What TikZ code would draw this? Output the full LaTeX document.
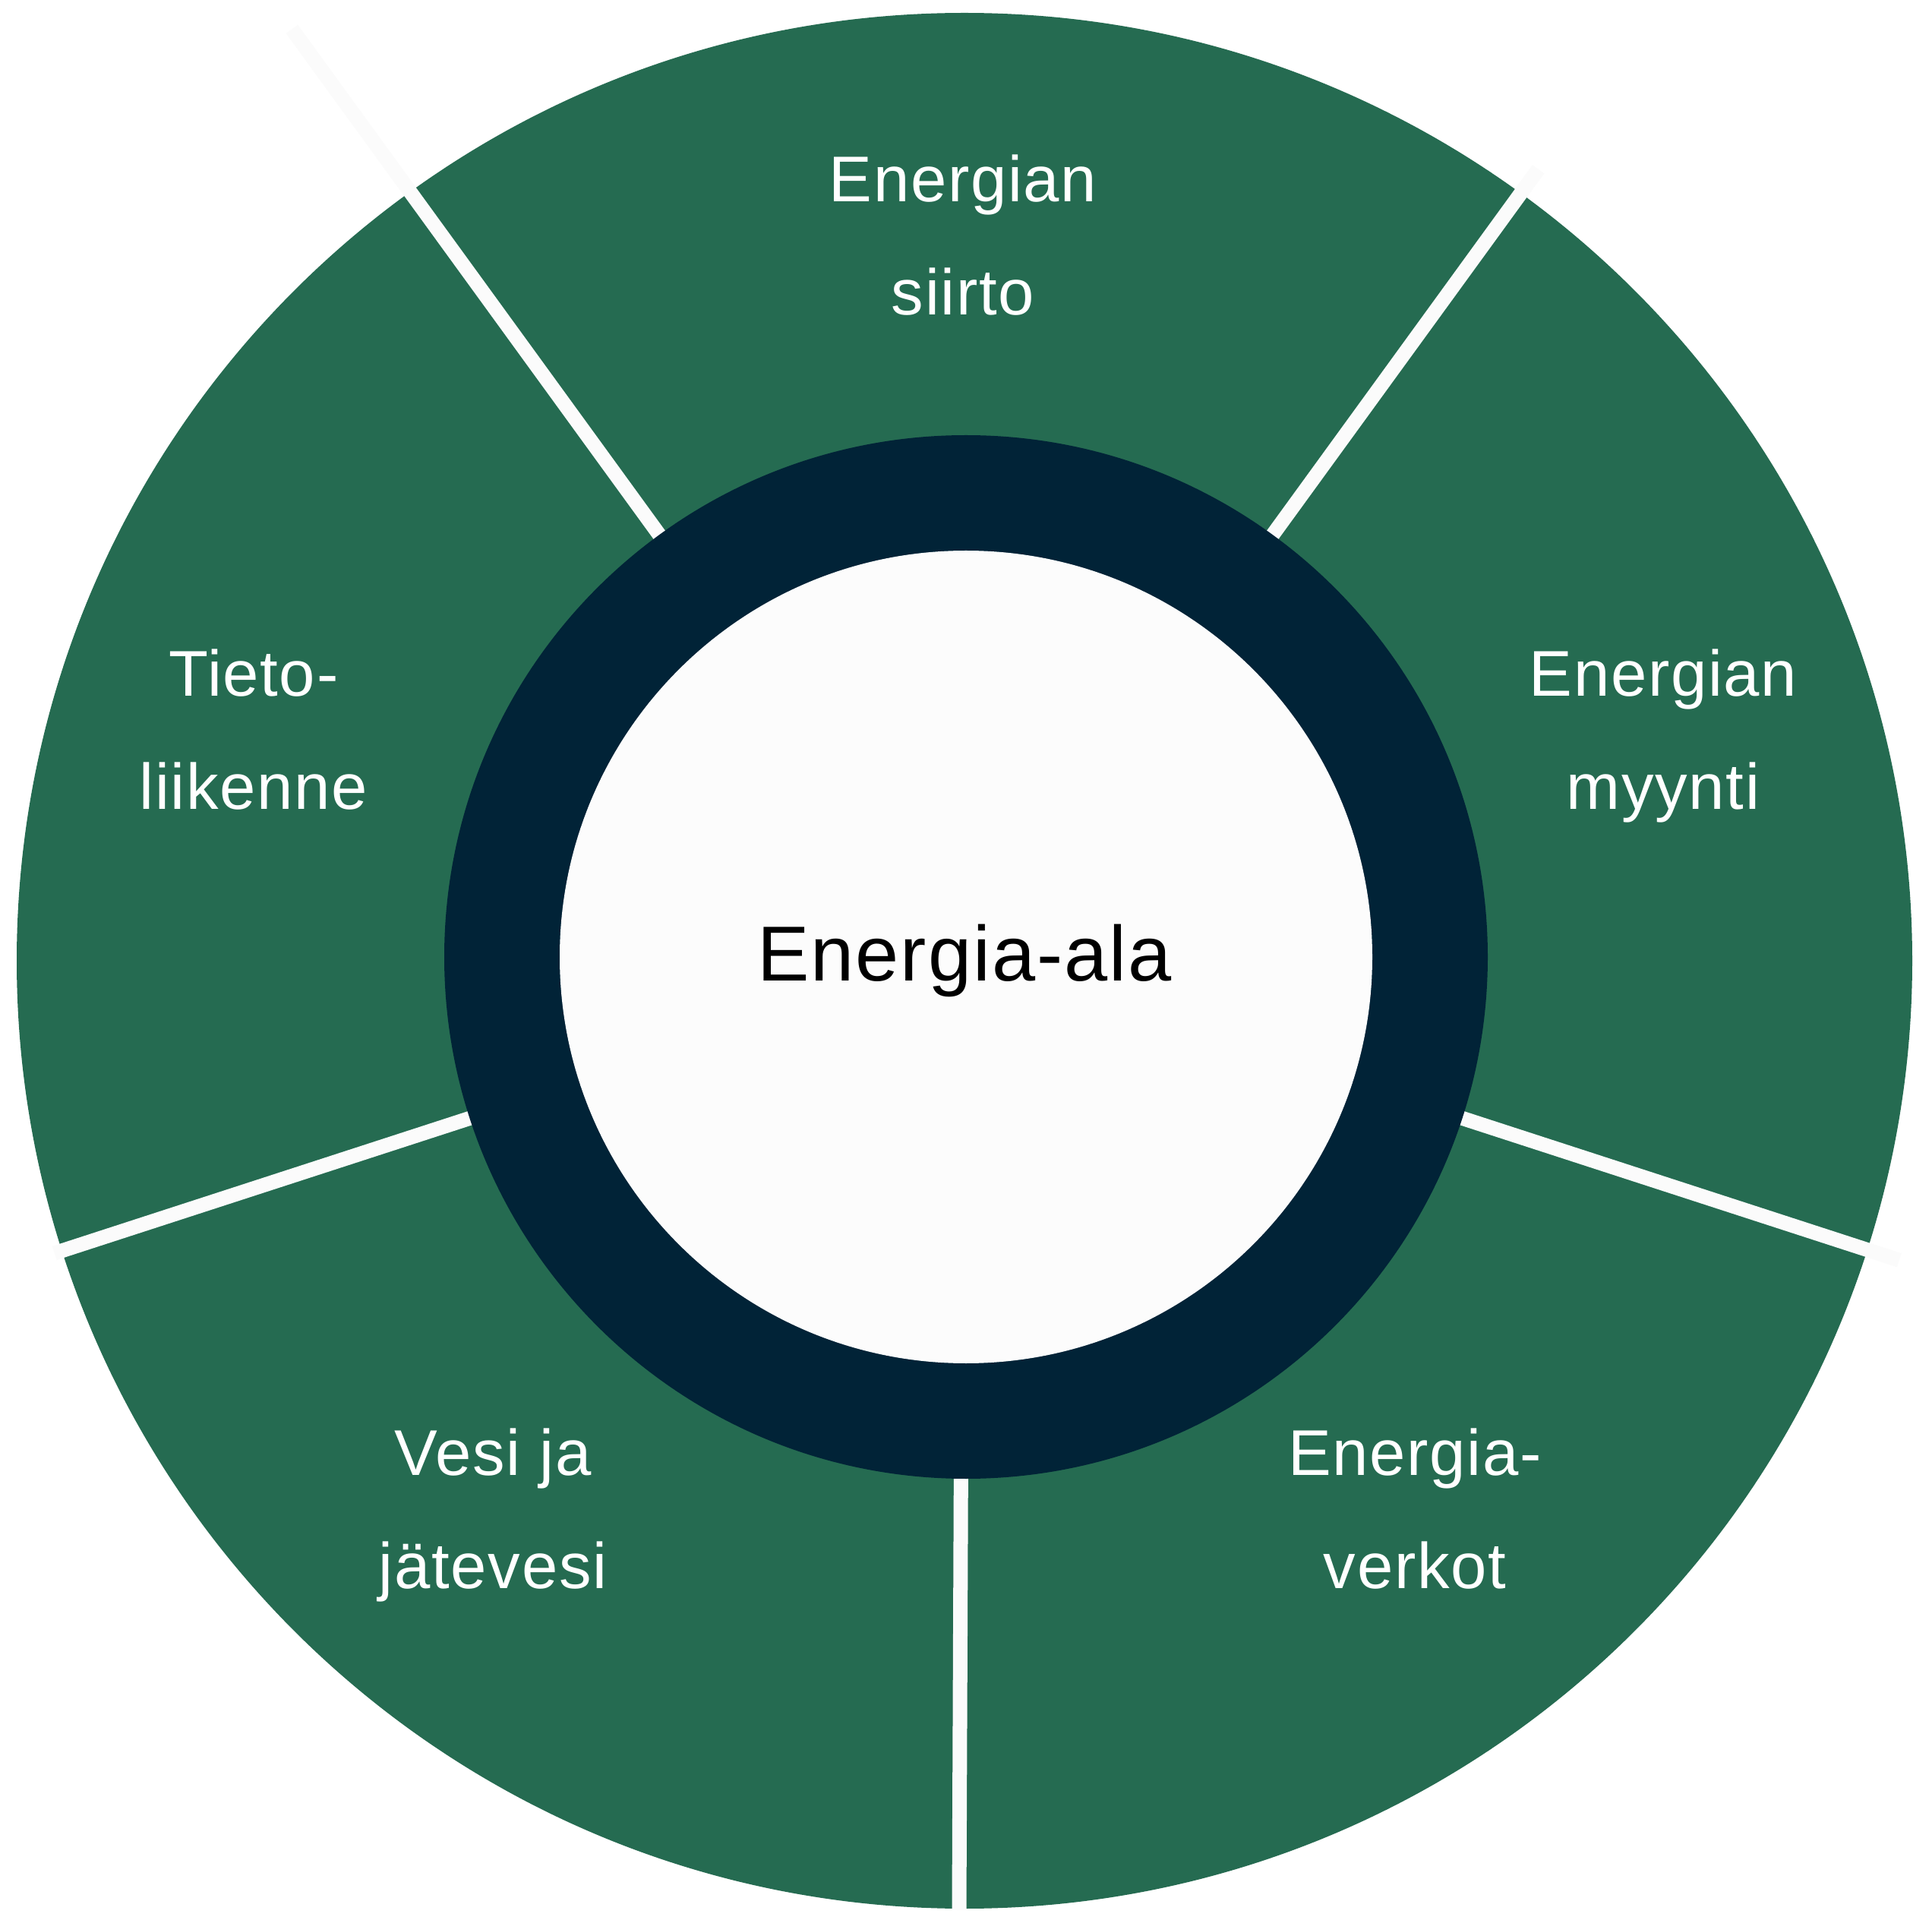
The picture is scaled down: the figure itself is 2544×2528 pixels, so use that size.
\documentclass[tikz,border=0pt]{standalone}
\usepackage{fontspec}
\setmainfont{Liberation Sans}[LetterSpace=2]
\usetikzlibrary{calc}
\definecolor{segGreen}{RGB}{37,107,81}
\definecolor{ringNavy}{RGB}{1,35,55}
\definecolor{sepWhite}{RGB}{251,251,251}
\definecolor{coreWhite}{RGB}{252,252,252}
\begin{document}
\begin{tikzpicture}[x=0.01cm,y=-0.01cm,
  lbl/.style={text=white, font=\fontsize{24.2}{30}\selectfont, anchor=base, inner sep=0pt},
  ctr/.style={text=black, font=\fontsize{29.2}{36}\selectfont, anchor=base, inner sep=0pt},
  sepline/.style={draw=sepWhite, line width=0.19cm}]
\useasboundingbox (0,0) rectangle (2544,2528);
\clip (0,0) rectangle (2544,2528);
\fill[white] (0,0) rectangle (2544,2528);
\coordinate (O) at (1270,1265);
\coordinate (C) at (1272,1260);
\fill[segGreen] (O) circle[radius=1248];
\foreach \a/\len in {306/1282,234/1510,162/1262,18/1292} {
  \coordinate (e\a) at ($(C)+(\a:\len)$);
  \draw[sepline] (C) -- (e\a);
}
\coordinate (b0) at (1268,1300);
\coordinate (b1) at (1263,2515);
\draw[sepline] (b0) -- (b1);
\fill[ringNavy] (C) circle[radius=687];
\fill[coreWhite] (C) circle[radius=535];
\node[lbl] (t1a) at (1268,266) {Energian};
\node[lbl] (t1b) at (1268,415) {siirto};
\node[lbl] (t2a) at (2190,917) {Energian};
\node[lbl] (t2b) at (2190,1066) {myynti};
\node[lbl] (t3a) at (1863,1942) {Energia-};
\node[lbl] (t3b) at (1863,2091) {verkot};
\node[lbl] (t4a) at (649,1942) {Vesi ja};
\node[lbl] (t4b) at (649,2091) {jätevesi};
\node[lbl] (t5a) at (334,917) {Tieto-};
\node[lbl] (t5b) at (334,1066) {liikenne};
\node[ctr] (core) at (1270,1291) {Energia-ala};
\end{tikzpicture}
\end{document}
